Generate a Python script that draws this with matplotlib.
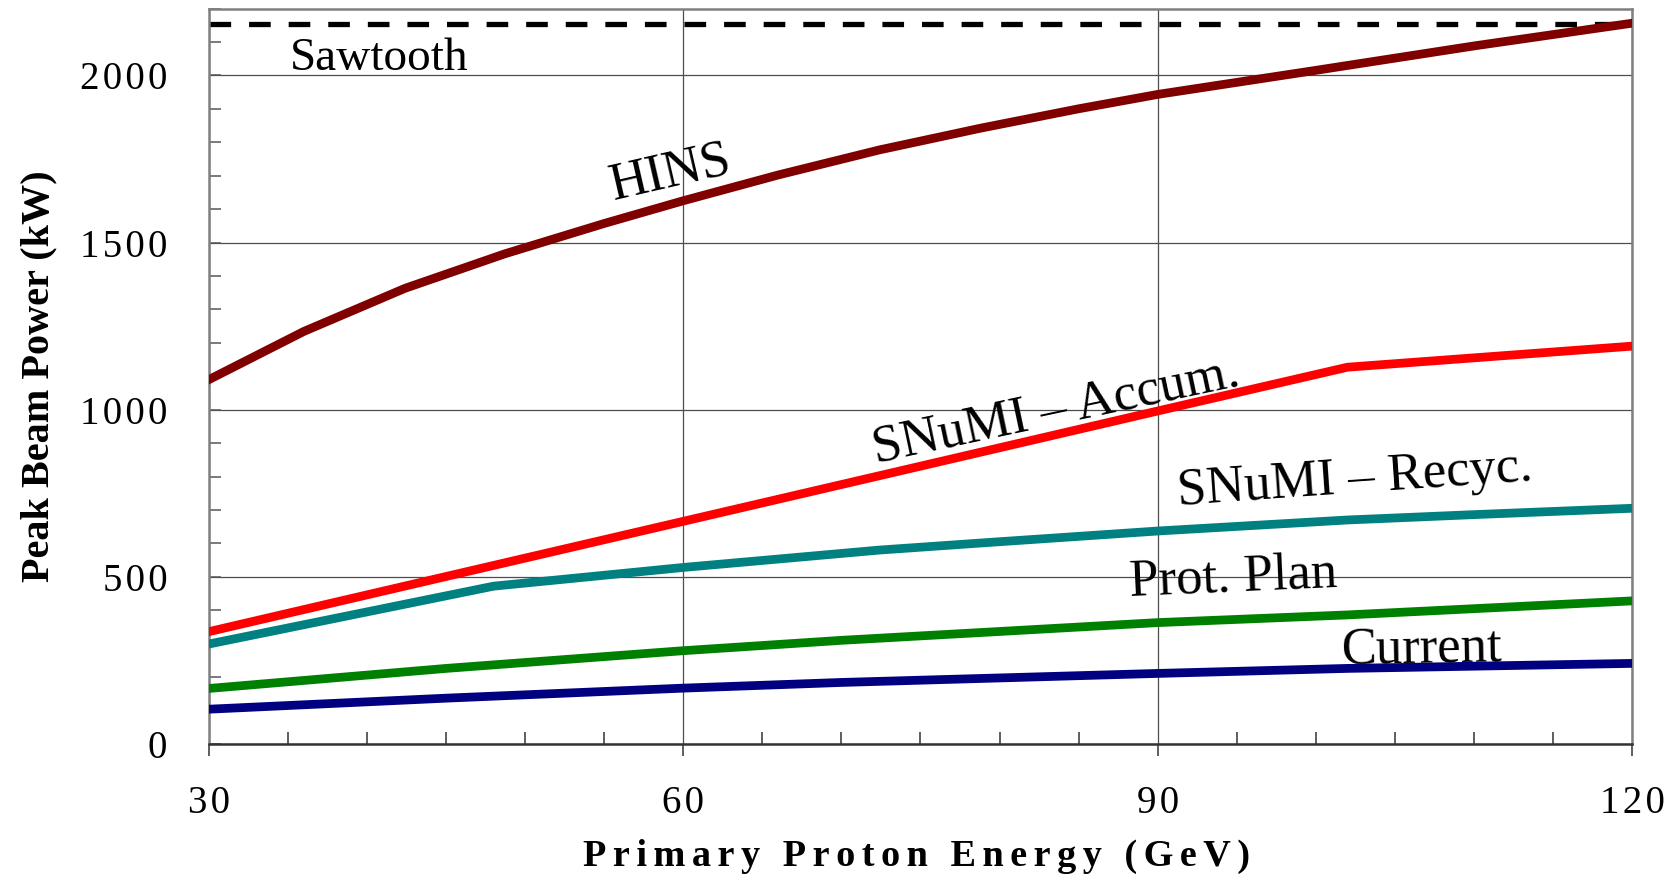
import matplotlib
matplotlib.use('Agg')
import matplotlib.pyplot as plt
from matplotlib.ticker import MultipleLocator

plt.rcParams['font.family'] = ['Liberation Serif', 'DejaVu Serif']

# values (GeV, kW)
energy_hins = [30, 36, 42.4, 48.7, 55, 60, 66, 72.4, 78.8, 85, 90, 100, 110, 120]
power_hins = [1090, 1234, 1363, 1466, 1557, 1625, 1702, 1777, 1842, 1900,
              1943, 2015, 2088, 2156]
energy_accum = [30, 60, 90, 102, 120]
power_accum = [336, 666, 996, 1127, 1190]
energy_recyc = [30, 48, 60, 72.4, 80, 90, 102, 110, 120]
power_recyc = [299, 472, 528, 580, 605, 637, 670, 686, 705]
energy_plan = [30, 45, 60, 70, 90, 102, 120]
power_plan = [166, 226, 279, 310, 363, 386, 428]
energy_current = [30, 45, 60, 70, 90, 102, 120]
power_current = [104, 137, 167, 184, 211, 226, 241]
energy_sawtooth = [30, 120]
power_sawtooth = [2155, 2155]

x_ticks = [30, 60, 90, 120]
y_ticks = [0, 500, 1000, 1500, 2000]

HAIR = '\u200a'


def spread(s, n=1):
    # the original uses letter-spaced text
    return (HAIR * n).join(s)


fig, ax = plt.subplots(figsize=(16.73, 8.77), dpi=100)
fig.subplots_adjust(left=0.1249, right=0.9755, bottom=0.1517, top=0.9903)

ax.plot(energy_sawtooth, power_sawtooth, color='black', lw=3.8,
        linestyle=(0, (4.1, 3.4)), zorder=2)
ax.plot(energy_current, power_current, color='#000080', lw=6.3, zorder=3)
ax.plot(energy_plan, power_plan, color='#008000', lw=6.3, zorder=3)
ax.plot(energy_recyc, power_recyc, color='#008080', lw=6.3, zorder=3)
ax.plot(energy_accum, power_accum, color='#ff0000', lw=6.3, zorder=3)
ax.plot(energy_hins, power_hins, color='#800000', lw=6.3, zorder=4)

# line labels: text, x, y, rotation, size
labels = [
    ('Sawtooth', 40.75, 2050, 0, 34),
    ('HINS', 59.2, 1707, 13, 38),
    ('SNuMI \u2013 Accum.', 83.6, 996, 12, 38),
    ('SNuMI \u2013 Recyc.', 102.5, 790, 4, 38),
    ('Prot. Plan', 94.8, 497, 2.5, 38),
    ('Current', 106.7, 285, 1, 38),
]
for txt, lx, ly, rot, fs in labels:
    ax.text(lx, ly, txt, rotation=rot, rotation_mode='anchor',
            ha='center', va='center', fontsize=fs, zorder=5)

ax.set_xlim(30, 120)
ax.set_ylim(0, 2200)
ax.set_xticks(x_ticks, labels=[spread(str(v)) for v in x_ticks])
ax.set_yticks(y_ticks, labels=[spread(str(v)) for v in y_ticks])
ax.xaxis.set_minor_locator(MultipleLocator(5))
ax.yaxis.set_minor_locator(MultipleLocator(100))

ax.grid(True, which='major', color='#4d4d4d', lw=0.9)
ax.set_axisbelow(True)

ax.tick_params(axis='y', which='both', direction='in', length=8.6, width=1.1,
               color='#555555', pad=30, labelsize=28)
ax.tick_params(axis='x', which='major', direction='out', length=8.6, width=1.1,
               color='#333333', pad=21, labelsize=28)
ax.tick_params(axis='x', which='minor', direction='in', length=8.6, width=1.1,
               color='#333333')

for side in ['left', 'top', 'right']:
    ax.spines[side].set_color('#808080')
    ax.spines[side].set_linewidth(1.8)
ax.spines['bottom'].set_color('#333333')
ax.spines['bottom'].set_linewidth(1.8)

ax.set_xlabel(spread('Primary Proton Energy (GeV)', 2), fontsize=27.5,
              fontweight='bold')
ax.xaxis.set_label_coords(0.4975, -0.129)
ax.set_ylabel('Peak Beam Power (kW)', fontsize=29, fontweight='bold')
ax.yaxis.set_label_coords(-0.1064, 0.5)

plt.savefig('out.png', dpi=100)
